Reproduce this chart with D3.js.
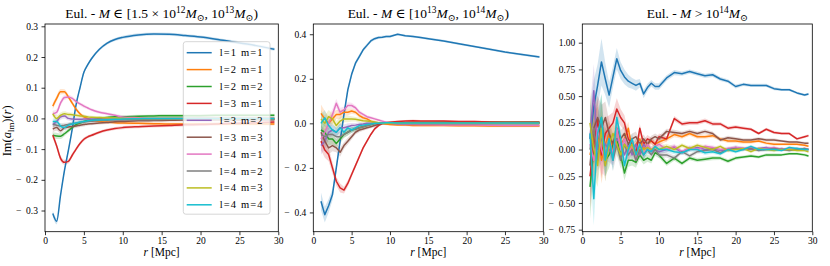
<!DOCTYPE html>
<html>
<head>
<meta charset="utf-8">
<script src="https://cdn.jsdelivr.net/npm/d3@7"></script>
<style>
  body { margin: 0; background: #fff; }
  svg { font-family: "Liberation Serif", "DejaVu Serif", serif; }
  .tick text { font-size: 9.5px; fill: #000; }
  .tick line { stroke: #000; stroke-width: 0.8; }
</style>
</head>
<body>
<script>
// ---- data ----
const seriesLabels = ["l=1 m=1", "l=2 m=1", "l=2 m=2", "l=3 m=1", "l=3 m=2",
                      "l=3 m=3", "l=4 m=1", "l=4 m=2", "l=4 m=3", "l=4 m=4"];
const seriesColors = ["#1f77b4", "#ff7f0e", "#2ca02c", "#d62728", "#9467bd",
                      "#8c564b", "#e377c2", "#7f7f7f", "#bcbd22", "#17becf"];
const xTicks = [0, 5, 10, 15, 20, 25, 30];

// panel 1: 1.5e12 < M < 1e13
const rLow = [1, 1.5, 2, 2.5, 3, 3.5, 4, 4.5, 5, 5.5, 6, 7, 8, 9, 10, 12, 14, 16, 18, 20, 22, 24, 26, 28, 29.5];
const low_l1m1 = [-0.31, -0.335, -0.25, -0.17, -0.105, -0.035, 0.045, 0.10, 0.15, 0.175, 0.195, 0.225, 0.245, 0.257, 0.264, 0.272, 0.275, 0.274, 0.27, 0.265, 0.258, 0.25, 0.242, 0.233, 0.225];
const low_l2m1 = [0.04, 0.065, 0.087, 0.087, 0.07, 0.05, 0.03, 0.015, 0.005, 0.0, -0.005, -0.01, -0.012, -0.014, -0.015, -0.016, -0.017, -0.018, -0.018, -0.018, -0.018, -0.018, -0.018, -0.018, -0.018];
const low_l2m2 = [-0.055, -0.057, -0.058, -0.05, -0.04, -0.03, -0.02, -0.015, -0.01, -0.007, -0.005, 0.0, 0.003, 0.005, 0.005, 0.007, 0.008, 0.009, 0.009, 0.009, 0.01, 0.01, 0.01, 0.01, 0.01];
const low_l3m1 = [-0.055, -0.09, -0.13, -0.143, -0.14, -0.12, -0.1, -0.082, -0.068, -0.06, -0.055, -0.045, -0.038, -0.033, -0.03, -0.027, -0.025, -0.023, -0.021, -0.02, -0.018, -0.016, -0.015, -0.013, -0.012];
const low_l3m2 = [-0.02, -0.01, 0.005, 0.008, 0.0, -0.002, -0.003, -0.003, -0.002, -0.002, -0.002, -0.002, -0.002, -0.002, -0.002, -0.002, -0.001, -0.001, -0.001, 0.0, 0.0, 0.0, 0.0, 0.0, 0.0];
const low_l3m3 = [-0.035, -0.03, -0.04, -0.03, -0.028, -0.026, -0.025, -0.022, -0.02, -0.018, -0.017, -0.015, -0.013, -0.011, -0.01, -0.008, -0.007, -0.006, -0.005, -0.005, -0.004, -0.004, -0.004, -0.004, -0.004];
const low_l4m1 = [0.015, 0.02, 0.05, 0.068, 0.07, 0.065, 0.055, 0.047, 0.04, 0.034, 0.028, 0.02, 0.015, 0.01, 0.005, 0.002, 0.0, 0.0, 0.0, 0.0, 0.0, 0.0, 0.0, 0.0, 0.0];
const low_l4m2 = [-0.02, -0.022, -0.025, -0.022, -0.02, -0.017, -0.015, -0.013, -0.012, -0.01, -0.009, -0.007, -0.006, -0.005, -0.005, -0.004, -0.004, -0.003, -0.003, -0.003, -0.003, -0.003, -0.003, -0.003, -0.003];
const low_l4m3 = [0.015, 0.0, 0.01, 0.015, 0.013, 0.012, 0.01, 0.008, 0.007, 0.005, 0.004, 0.003, 0.002, 0.001, 0.0, 0.0, 0.0, 0.0, 0.0, 0.0, 0.0, 0.0, 0.0, 0.0, 0.0];
const low_l4m4 = [-0.01, -0.01, -0.025, -0.03, -0.022, -0.018, -0.015, -0.012, -0.01, -0.008, -0.006, -0.005, -0.004, -0.003, -0.002, -0.001, 0.0, 0.0, 0.0, 0.0, 0.0, 0.0, 0.0, 0.0, 0.0];
const low_err = [0.01, 0.01, 0.009, 0.008, 0.007, 0.007, 0.006, 0.006, 0.006, 0.005, 0.005, 0.005, 0.005, 0.005, 0.005, 0.005, 0.005, 0.005, 0.005, 0.005, 0.005, 0.005, 0.005, 0.005, 0.005];
const lowYTicks = [-0.3, -0.2, -0.1, 0.0, 0.1, 0.2, 0.3];

// panel 2: 1e13 < M < 1e14
const rMid = [1, 1.5, 2, 2.5, 3, 3.5, 4, 4.5, 5, 5.5, 6, 6.5, 7, 7.5, 8, 8.5, 9, 9.5, 10, 11, 12, 13, 14, 15, 17, 19, 21, 23, 25, 27, 29.5];
const mid_l1m1 = [-0.35, -0.41, -0.37, -0.32, -0.20, -0.08, 0.04, 0.15, 0.22, 0.27, 0.30, 0.33, 0.35, 0.37, 0.38, 0.385, 0.387, 0.39, 0.39, 0.40, 0.393, 0.39, 0.385, 0.38, 0.37, 0.357, 0.345, 0.333, 0.32, 0.31, 0.298];
const mid_l2m1 = [0.045, 0.02, 0.0, 0.02, 0.04, 0.04, 0.05, 0.05, 0.055, 0.05, 0.035, 0.025, 0.02, 0.01, 0.005, 0.0, 0.0, -0.003, -0.005, -0.007, -0.008, -0.01, -0.01, -0.01, -0.01, -0.011, -0.011, -0.012, -0.012, -0.012, -0.012];
const mid_l2m2 = [-0.03, -0.04, -0.07, -0.07, -0.09, -0.07, -0.05, -0.04, -0.03, -0.025, -0.02, -0.015, -0.01, -0.005, 0.0, 0.0, 0.0, 0.0, 0.0, 0.002, 0.003, 0.004, 0.004, 0.004, 0.005, 0.005, 0.005, 0.005, 0.005, 0.005, 0.005];
const mid_l3m1 = [-0.08, -0.12, -0.14, -0.20, -0.26, -0.29, -0.30, -0.27, -0.23, -0.19, -0.15, -0.11, -0.08, -0.05, -0.025, -0.01, 0.0, 0.003, 0.005, 0.008, 0.01, 0.012, 0.01, 0.01, 0.01, 0.008, 0.008, 0.006, 0.005, 0.005, 0.005];
const mid_l3m2 = [-0.10, -0.08, -0.04, -0.03, -0.04, -0.02, -0.02, -0.015, -0.01, -0.008, -0.005, -0.003, 0.0, 0.0, 0.0, 0.0, 0.0, 0.0, 0.0, 0.0, 0.0, 0.0, 0.0, 0.0, 0.0, 0.0, 0.0, 0.0, 0.0, 0.0, 0.0];
const mid_l3m3 = [-0.04, -0.08, -0.11, -0.10, -0.11, -0.13, -0.10, -0.08, -0.06, -0.04, -0.03, -0.025, -0.02, -0.015, -0.01, -0.005, 0.0, 0.0, 0.0, 0.002, 0.003, 0.003, 0.003, 0.002, 0.002, 0.002, 0.002, 0.002, 0.002, 0.002, 0.002];
const mid_l4m1 = [-0.07, -0.04, 0.0, 0.04, 0.09, 0.05, 0.06, 0.08, 0.08, 0.07, 0.05, 0.04, 0.03, 0.025, 0.02, 0.015, 0.01, 0.005, 0.0, -0.003, -0.005, -0.005, -0.006, -0.006, -0.007, -0.008, -0.008, -0.009, -0.01, -0.01, -0.01];
const mid_l4m2 = [-0.05, -0.06, -0.05, -0.05, -0.06, -0.06, -0.05, -0.04, -0.03, -0.025, -0.02, -0.015, -0.01, -0.005, 0.0, 0.0, 0.0, 0.0, 0.0, -0.002, -0.002, -0.002, -0.002, -0.002, -0.002, -0.002, -0.002, -0.002, -0.002, -0.002, -0.002];
const mid_l4m3 = [0.02, 0.0, 0.03, 0.02, -0.01, 0.01, 0.02, 0.02, 0.02, 0.018, 0.015, 0.012, 0.01, 0.008, 0.005, 0.003, 0.0, 0.0, 0.0, 0.0, 0.0, 0.0, 0.0, 0.0, 0.0, 0.0, 0.0, 0.0, 0.0, 0.0, 0.0];
const mid_l4m4 = [0.0, 0.025, -0.01, -0.03, -0.04, -0.02, -0.04, -0.02, -0.03, -0.02, -0.01, -0.008, -0.005, -0.003, 0.0, 0.0, 0.002, 0.003, 0.003, 0.002, 0.002, 0.002, 0.002, 0.002, 0.002, 0.002, 0.002, 0.002, 0.002, 0.002, 0.002];
const mid_err = [0.04, 0.035, 0.03, 0.025, 0.02, 0.02, 0.015, 0.015, 0.012, 0.01, 0.01, 0.008, 0.008, 0.007, 0.007, 0.006, 0.006, 0.006, 0.006, 0.005, 0.005, 0.005, 0.005, 0.005, 0.005, 0.005, 0.005, 0.005, 0.005, 0.005, 0.005];
const midYTicks = [-0.4, -0.2, 0.0, 0.2, 0.4];

// panel 3: M > 1e14
const rHigh = [1, 1.5, 2, 2.5, 3, 3.5, 4, 4.5, 5, 5.5, 6, 6.5, 7, 7.5, 8, 8.5, 9, 9.5, 10, 11, 12, 13, 14, 15, 16, 17, 18, 19, 20, 21, 22, 23, 24, 25, 26, 27, 28, 29, 29.5];
const high_l1m1 = [0.10, 0.40, 0.60, 0.82, 0.66, 0.51, 0.68, 0.85, 0.74, 0.68, 0.64, 0.62, 0.60, 0.62, 0.52, 0.58, 0.62, 0.59, 0.59, 0.67, 0.72, 0.71, 0.73, 0.71, 0.69, 0.70, 0.66, 0.64, 0.59, 0.61, 0.60, 0.60, 0.60, 0.57, 0.56, 0.56, 0.53, 0.51, 0.52];
const high_l2m1 = [-0.05, 0.10, 0.20, -0.10, 0.05, 0.15, 0.00, 0.20, 0.05, 0.10, 0.20, 0.00, 0.05, 0.10, 0.00, 0.05, 0.08, 0.05, 0.07, 0.10, 0.14, 0.12, 0.15, 0.12, 0.12, 0.13, 0.10, 0.08, 0.08, 0.07, 0.07, 0.08, 0.06, 0.05, 0.05, 0.05, 0.05, 0.04, 0.03];
const high_l2m2 = [-0.35, 0.00, 0.10, 0.30, -0.10, -0.05, 0.05, 0.10, -0.05, -0.22, -0.10, -0.10, -0.12, -0.05, -0.10, -0.08, -0.10, -0.03, -0.05, -0.13, -0.08, -0.13, -0.08, -0.10, -0.09, -0.08, -0.08, -0.11, -0.08, -0.07, -0.06, -0.07, -0.05, -0.05, -0.05, -0.04, -0.04, -0.05, -0.06];
const high_l3m1 = [-0.25, 0.05, 0.28, -0.05, 0.15, 0.20, 0.25, 0.38, 0.30, 0.25, 0.10, 0.05, -0.03, 0.20, 0.05, 0.10, 0.08, 0.05, 0.12, 0.10, 0.29, 0.24, 0.25, 0.25, 0.27, 0.24, 0.24, 0.20, 0.21, 0.20, 0.19, 0.15, 0.19, 0.16, 0.15, 0.15, 0.10, 0.12, 0.13];
const high_l3m2 = [0.10, 0.55, 0.00, 0.10, 0.05, 0.00, -0.05, 0.10, 0.05, -0.05, 0.05, -0.05, 0.05, -0.05, 0.05, 0.00, -0.02, 0.00, -0.02, 0.00, 0.02, -0.03, 0.00, 0.02, 0.00, 0.01, -0.01, 0.00, 0.02, 0.01, 0.00, 0.01, 0.02, 0.00, 0.01, 0.00, 0.01, 0.00, 0.00];
const high_l3m3 = [-0.15, 0.20, 0.30, 0.20, 0.30, 0.15, 0.05, 0.20, 0.10, 0.15, 0.05, 0.10, 0.12, 0.05, 0.10, 0.05, 0.10, 0.12, 0.10, 0.17, 0.16, 0.15, 0.17, 0.15, 0.17, 0.15, 0.09, 0.11, 0.10, 0.09, 0.09, 0.10, 0.09, 0.09, 0.08, 0.07, 0.07, 0.06, 0.06];
const high_l4m1 = [0.05, -0.10, 0.20, 0.00, -0.10, 0.10, -0.05, 0.20, 0.00, 0.10, -0.05, 0.05, -0.10, 0.05, -0.05, 0.05, 0.00, 0.03, 0.05, 0.00, 0.03, -0.02, 0.02, 0.00, 0.03, 0.02, 0.00, 0.01, 0.02, 0.01, 0.02, 0.00, 0.01, 0.02, 0.00, 0.01, 0.00, 0.01, 0.00];
const high_l4m2 = [0.00, 0.20, -0.10, 0.25, -0.15, 0.10, -0.10, 0.05, -0.10, 0.05, -0.05, 0.00, -0.10, 0.00, -0.05, 0.00, -0.05, 0.00, -0.05, -0.05, -0.08, -0.02, -0.06, -0.02, -0.01, 0.00, -0.03, 0.00, 0.01, 0.00, 0.01, -0.01, 0.00, 0.01, 0.00, -0.01, 0.00, 0.01, 0.00];
const high_l4m3 = [0.25, 0.00, -0.15, 0.20, -0.15, 0.05, 0.15, 0.05, -0.05, 0.05, 0.00, 0.05, -0.05, 0.03, 0.00, 0.02, 0.00, 0.02, 0.00, 0.03, 0.00, 0.04, 0.01, 0.04, 0.02, 0.00, 0.03, -0.01, 0.00, 0.01, -0.02, 0.01, 0.00, -0.01, 0.00, 0.00, -0.01, -0.01, -0.02];
const high_l4m4 = [0.15, -0.46, 0.15, 0.30, -0.10, 0.10, -0.10, 0.30, 0.10, -0.15, 0.00, 0.10, -0.05, 0.05, -0.05, 0.00, -0.02, 0.03, 0.00, 0.00, -0.02, -0.03, 0.00, 0.00, -0.03, -0.02, -0.04, 0.00, -0.02, 0.00, 0.03, 0.00, 0.00, 0.00, -0.01, 0.02, 0.01, 0.00, 0.00];
const high_err = [0.3, 0.25, 0.2, 0.22, 0.15, 0.12, 0.1, 0.1, 0.08, 0.07, 0.06, 0.05, 0.05, 0.04, 0.04, 0.035, 0.03, 0.03, 0.03, 0.025, 0.025, 0.02, 0.02, 0.02, 0.02, 0.02, 0.018, 0.018, 0.018, 0.015, 0.015, 0.015, 0.015, 0.015, 0.012, 0.012, 0.012, 0.012, 0.012];
const highYTicks = [-0.75, -0.5, -0.25, 0.0, 0.25, 0.5, 0.75, 1.0];

// ---- layout ----
const width = 830, height = 266;
const plotTop = 24, plotBottom = 231.7;

// TeX-style tick label: spaced minus sign
const texFmt = spec => { const f = d3.format(spec); return v => f(v).replace("−", "−\u2002"); };

const panels = [
  { x0: 45, x1: 278.3, yDomain: [-0.369, 0.3075], yTicks: lowYTicks, fmt: texFmt(".1f"),
    r: rLow, err: low_err, curve: d3.curveMonotoneX, legend: true,
    series: [low_l1m1, low_l2m1, low_l2m2, low_l3m1, low_l3m2, low_l3m3, low_l4m1, low_l4m2, low_l4m3, low_l4m4],
    title: [["Eul. - ", "n"], ["M", "i"], [" ∈ [1.5 × 10", "n"], ["12", "sup"], ["M", "i"], ["⊙", "sub"],
            [", 10", "n"], ["13", "sup"], ["M", "i"], ["⊙", "sub"], [")", "n"]] },
  { x0: 313.3, x1: 543.3, yDomain: [-0.4865, 0.446], yTicks: midYTicks, fmt: texFmt(".1f"),
    r: rMid, err: mid_err, curve: d3.curveLinear, legend: false,
    series: [mid_l1m1, mid_l2m1, mid_l2m2, mid_l3m1, mid_l3m2, mid_l3m3, mid_l4m1, mid_l4m2, mid_l4m3, mid_l4m4],
    title: [["Eul. - ", "n"], ["M", "i"], [" ∈ [10", "n"], ["13", "sup"], ["M", "i"], ["⊙", "sub"],
            [", 10", "n"], ["14", "sup"], ["M", "i"], ["⊙", "sub"], [")", "n"]] },
  { x0: 582.3, x1: 812.3, yDomain: [-0.769, 1.175], yTicks: highYTicks, fmt: texFmt(".2f"),
    r: rHigh, err: high_err, curve: d3.curveLinear, legend: false,
    series: [high_l1m1, high_l2m1, high_l2m2, high_l3m1, high_l3m2, high_l3m3, high_l4m1, high_l4m2, high_l4m3, high_l4m4],
    title: [["Eul. - ", "n"], ["M", "i"], [" > 10", "n"], ["14", "sup"], ["M", "i"], ["⊙", "sub"]] }
];

const svg = d3.select("body").append("svg")
  .attr("width", width)
  .attr("height", height);

// writes a list of [text, style] pieces as tspans (italic, super/subscript)
function richText(sel, pieces, size) {
  let shift = 0;
  pieces.forEach(([txt, st]) => {
    const target = st === "sup" ? -0.4 * size : st === "sub" ? 0.22 * size : 0;
    const t = sel.append("tspan").text(txt).attr("dy", target - shift);
    shift = target;
    if (st === "i") t.attr("font-style", "italic");
    if (st === "sup" || st === "sub") t.attr("font-size", size * 0.7);
  });
}

panels.forEach((p, pi) => {
  const x = d3.scaleLinear().domain([0, 30]).range([p.x0, p.x1]);
  const y = d3.scaleLinear().domain(p.yDomain).range([plotBottom, plotTop]);
  const g = svg.append("g");

  g.append("clipPath").attr("id", "clip" + pi)
    .append("rect").attr("x", p.x0).attr("y", plotTop)
    .attr("width", p.x1 - p.x0).attr("height", plotBottom - plotTop);

  const plot = g.append("g").attr("clip-path", `url(#clip${pi})`);

  // shaded uncertainty bands
  p.series.forEach((vals, si) => {
    const pts = p.r.map((r, i) => [r, vals[i], p.err[i]]);
    plot.append("path")
      .datum(pts)
      .attr("d", d3.area().curve(p.curve)
        .x(d => x(d[0])).y0(d => y(d[1] - d[2])).y1(d => y(d[1] + d[2])))
      .attr("fill", seriesColors[si])
      .attr("fill-opacity", 0.2);
  });

  // lines
  p.series.forEach((vals, si) => {
    const pts = p.r.map((r, i) => [r, vals[i]]);
    plot.append("path")
      .datum(pts)
      .attr("d", d3.line().curve(p.curve).x(d => x(d[0])).y(d => y(d[1])))
      .attr("fill", "none")
      .attr("stroke", seriesColors[si])
      .attr("stroke-width", 1.5)
      .attr("stroke-linejoin", "round");
  });

  // axes
  const xAxis = g.append("g")
    .attr("transform", `translate(0,${plotBottom})`)
    .call(d3.axisBottom(x).tickValues(xTicks).tickSize(3.5).tickSizeOuter(0).tickPadding(2.5));
  xAxis.select(".domain").remove();
  xAxis.attr("font-family", null).attr("font-size", null);

  const yAxis = g.append("g")
    .attr("transform", `translate(${p.x0},0)`)
    .call(d3.axisLeft(y).tickValues(p.yTicks).tickFormat(p.fmt).tickSize(3.5).tickSizeOuter(0).tickPadding(3.5));
  yAxis.select(".domain").remove();
  yAxis.attr("font-family", null).attr("font-size", null);

  g.append("rect")
    .attr("x", p.x0).attr("y", plotTop)
    .attr("width", p.x1 - p.x0).attr("height", plotBottom - plotTop)
    .attr("fill", "none").attr("stroke", "#000").attr("stroke-width", 0.8);

  // title
  const title = g.append("text")
    .attr("x", (p.x0 + p.x1) / 2).attr("y", 18)
    .attr("text-anchor", "middle")
    .attr("font-size", 13.5);
  richText(title, p.title, 13.5);

  // x label
  const xl = g.append("text")
    .attr("x", (p.x0 + p.x1) / 2).attr("y", 256)
    .attr("text-anchor", "middle")
    .attr("font-size", 11.5);
  richText(xl, [["r", "i"], [" [Mpc]", "n"]], 11.5);

  // legend
  if (p.legend) {
    const lw = 86.7, rowH = 16.9;
    const lx = p.x1 - 8.3 - lw, ly = plotTop + 17.7;
    const leg = g.append("g").attr("transform", `translate(${lx},${ly})`);
    leg.append("rect")
      .attr("width", lw).attr("height", rowH * seriesLabels.length + 3.5)
      .attr("rx", 2.5)
      .attr("fill", "#fff").attr("fill-opacity", 0.8)
      .attr("stroke", "#cccccc").attr("stroke-width", 0.8);
    seriesLabels.forEach((lab, i) => {
      const cy = 11 + i * rowH;
      leg.append("line")
        .attr("x1", 3.4).attr("x2", 28.4).attr("y1", cy).attr("y2", cy)
        .attr("stroke", seriesColors[i]).attr("stroke-width", 1.5);
      leg.append("text")
        .attr("x", 36.5).attr("y", cy + 3.6)
        .attr("font-size", 10.5)
        .attr("letter-spacing", 1.1)
        .text(lab);
    });
  }
});

// y label on the first panel
const yl = svg.append("text")
  .attr("transform", `translate(11,${(plotTop + plotBottom) / 2 + 3}) rotate(-90)`)
  .attr("text-anchor", "middle")
  .attr("font-size", 12.5);
richText(yl, [["Im(", "n"], ["a", "i"], ["lm", "sub"], [")(", "n"], ["r", "i"], [")", "n"]], 12.5);
</script>
</body>
</html>
